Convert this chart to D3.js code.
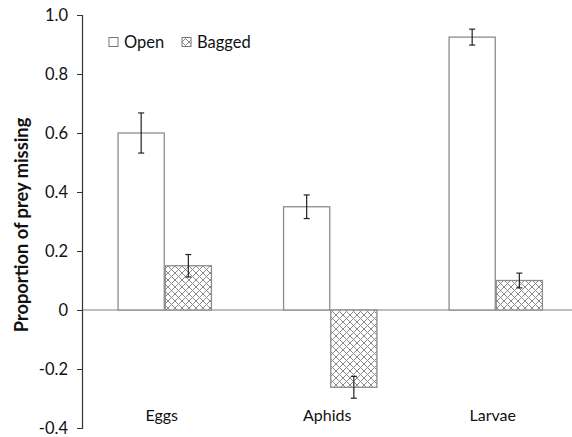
<!DOCTYPE html>
<html><head><meta charset="utf-8">
<script src="https://cdn.jsdelivr.net/npm/d3@7/dist/d3.min.js"></script>
<style>body{margin:0;background:#fff}svg{display:block}text{font-family:Lato,"Open Sans",sans-serif}</style>
</head><body><svg id="c" width="572" height="437"></svg>
<script>
const categories = ["Eggs", "Aphids", "Larvae"];
const seriesNames = ["Open", "Bagged"];
const openValues = [0.60, 0.35, 0.925];
const openErrors = [0.068, 0.04, 0.027];
const baggedValues = [0.15, -0.262, 0.10];
const baggedErrors = [0.038, 0.037, 0.025];
const yTicks = [-0.4, -0.2, 0, 0.2, 0.4, 0.6, 0.8, 1.0];

const svg = d3.select("#c");
const m = {l: 82, t: 15, b: 428};
const y = d3.scaleLinear().domain([-0.4, 1.0]).range([m.b, m.t]);
const x = d3.scaleBand().domain(categories).range([m.l, m.l + 3 * 165.5]).paddingInner(0.43).paddingOuter(0.215);
const xs = d3.scaleBand().domain(seriesNames).range([0, x.bandwidth()]);

const defs = svg.append("defs");
const pat = defs.append("pattern").attr("id", "hatch").attr("patternUnits", "userSpaceOnUse")
  .attr("width", 7).attr("height", 7);
pat.append("rect").attr("width", 7).attr("height", 7).attr("fill", "#fff");
pat.append("path").attr("d", "M-1,1 l2,-2 M0,7 l7,-7 M6,8 l2,-2 M-1,6 l2,2 M0,0 l7,7 M6,-1 l2,2")
  .attr("stroke", "#8a8a8a").attr("stroke-width", 1);

const data = [];
categories.forEach((c, i) => {
  data.push({c, s: "Open", v: openValues[i], e: openErrors[i]});
  data.push({c, s: "Bagged", v: baggedValues[i], e: baggedErrors[i]});
});

// zero line
svg.append("line").attr("x1", m.l).attr("x2", 572).attr("y1", y(0)).attr("y2", y(0))
  .attr("stroke", "#808080").attr("stroke-width", 1.2);

svg.selectAll("rect.bar").data(data).enter().append("rect").attr("class", "bar")
  .attr("x", d => x(d.c) + xs(d.s) + 0.5)
  .attr("y", d => Math.min(y(d.v), y(0)))
  .attr("width", xs.bandwidth() - 1)
  .attr("height", d => Math.abs(y(d.v) - y(0)))
  .attr("fill", d => d.s === "Open" ? "#fff" : "url(#hatch)")
  .attr("stroke", "#8c8c8c").attr("stroke-width", 1.3);

const eb = svg.selectAll("g.eb").data(data).enter().append("g").attr("stroke", "#222").attr("stroke-width", 1.2);
eb.append("line").attr("x1", d => x(d.c) + xs(d.s) + xs.bandwidth() / 2).attr("x2", d => x(d.c) + xs(d.s) + xs.bandwidth() / 2)
  .attr("y1", d => y(d.v - d.e)).attr("y2", d => y(d.v + d.e));
[-1, 1].forEach(sg => {
  eb.append("line").attr("x1", d => x(d.c) + xs(d.s) + xs.bandwidth() / 2 - 3).attr("x2", d => x(d.c) + xs(d.s) + xs.bandwidth() / 2 + 3)
    .attr("y1", d => y(d.v + sg * d.e)).attr("y2", d => y(d.v + sg * d.e));
});

// y axis
const ya = svg.append("g").attr("transform", `translate(${m.l},0)`)
  .call(d3.axisLeft(y).tickValues(yTicks).tickSize(5).tickPadding(9)
    .tickFormat(d => d === 0 ? "0" : d3.format(".1f")(d).replace("\u2212", "-")));
ya.select(".domain").attr("stroke", "#333").attr("stroke-width", 1.2);
ya.selectAll(".tick line").attr("stroke", "#333");
ya.selectAll("text").attr("font-size", 16.5).attr("fill", "#111").attr("font-family", "Lato,sans-serif");

// category labels
svg.selectAll("text.cat").data(categories).enter().append("text").attr("class", "cat")
  .attr("x", d => x(d) + x.bandwidth() / 2 - 3).attr("y", 421).attr("text-anchor", "middle")
  .attr("font-size", 16).attr("fill", "#111").text(d => d);

// y title
svg.append("text").attr("transform", "translate(28,225) rotate(-90)").attr("text-anchor", "middle")
  .attr("font-size", 18.3).attr("font-weight", "bold").attr("fill", "#111").text("Proportion of prey missing");

// legend
const lg = svg.append("g");
const lx = [109, 182];
seriesNames.forEach((s, i) => {
  lg.append("rect").attr("x", lx[i]).attr("y", 37.5).attr("width", 9).attr("height", 9)
    .attr("fill", i === 0 ? "#fff" : "url(#hatch)").attr("stroke", "#777").attr("stroke-width", 1);
  lg.append("text").attr("x", lx[i] + 15).attr("y", 48).attr("font-size", 16.5).attr("fill", "#111").text(s);
});
</script></body></html>
